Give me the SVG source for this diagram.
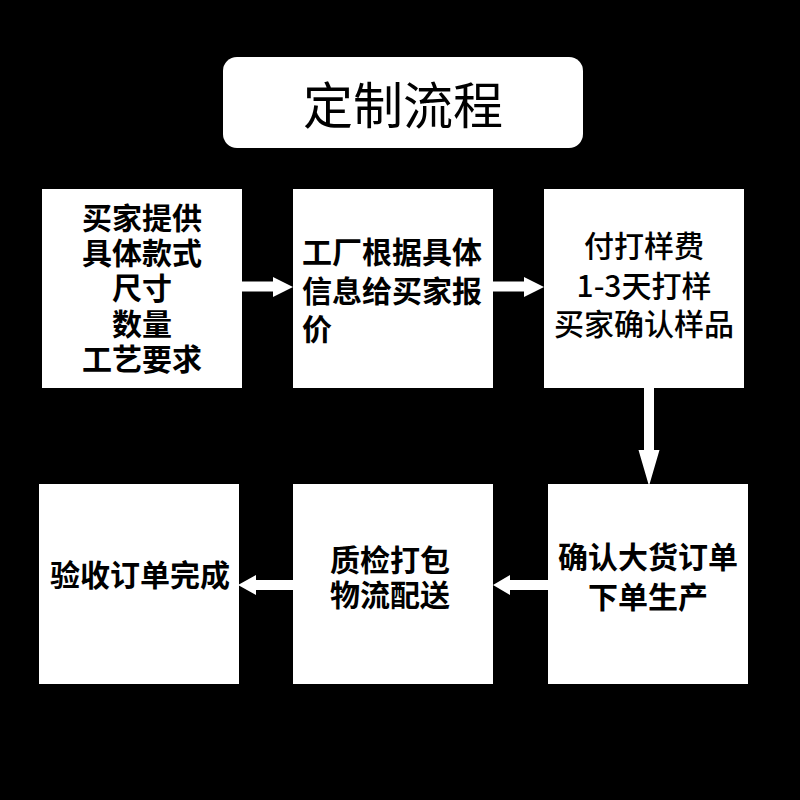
<svg xmlns="http://www.w3.org/2000/svg" width="800" height="800" viewBox="0 0 800 800">
<style>
.box{fill:#fff}
.t{font-family:"Noto Sans CJK SC","Noto Sans",sans-serif;font-size:30px;font-weight:700;fill:#000;dominant-baseline:central}
.c{text-anchor:middle}
.m{font-weight:500}
.arrow{fill:#fff}
</style>
<rect x="0" y="0" width="800" height="800" fill="#000"/>
<g id="title">
<rect class="box" x="223" y="57" width="360" height="91" rx="14"/>
<text x="403" y="102" class="t c" style="font-size:50px;font-weight:400">定制流程</text>
</g>
<g id="n1">
<rect class="box" x="42" y="189" width="200" height="199"/>
<text class="t c" x="142" y="216">买家提供</text>
<text class="t c" x="142" y="251">具体款式</text>
<text class="t c" x="142" y="286">尺寸</text>
<text class="t c" x="142" y="322">数量</text>
<text class="t c" x="142" y="357">工艺要求</text>
</g>
<g id="n2">
<rect class="box" x="293" y="189" width="200" height="199"/>
<text class="t" x="302" y="250">工厂根据具体</text>
<text class="t" x="302" y="289">信息给买家报</text>
<text class="t" x="302" y="327">价</text>
</g>
<g id="n3">
<rect class="box" x="544" y="189" width="200" height="199"/>
<text class="t c m" x="644" y="244">付打样费</text>
<text class="t c m" x="644" y="284">1-3天打样</text>
<text class="t c m" x="644" y="322">买家确认样品</text>
</g>
<g id="n4">
<rect class="box" x="548" y="484" width="200" height="200"/>
<text class="t c" x="648" y="555">确认大货订单</text>
<text class="t c" x="648" y="595">下单生产</text>
</g>
<g id="n5">
<rect class="box" x="293" y="484" width="200" height="200"/>
<text class="t c" x="390" y="558">质检打包</text>
<text class="t c" x="390" y="593">物流配送</text>
</g>
<g id="n6">
<rect class="box" x="39" y="484" width="200" height="200"/>
<text class="t c" x="140" y="573">验收订单完成</text>
</g>
<g id="connectors">
<path class="arrow" d="M242,281.5 H273 V277 L293,287 L273,297 V291.5 H242 Z"/>
<path class="arrow" d="M493,281.5 H524 V277 L544,287 L524,297 V291.5 H493 Z"/>
<path class="arrow" d="M644,388 V450 H638.5 L649,486 L659.5,450 H654 V388 Z"/>
<path class="arrow" d="M548,580 H510 V575 L493,585 L510,595 V590 H548 Z"/>
<path class="arrow" d="M293,580 H256 V575 L238,585 L256,595 V590 H293 Z"/>
</g>
</svg>
